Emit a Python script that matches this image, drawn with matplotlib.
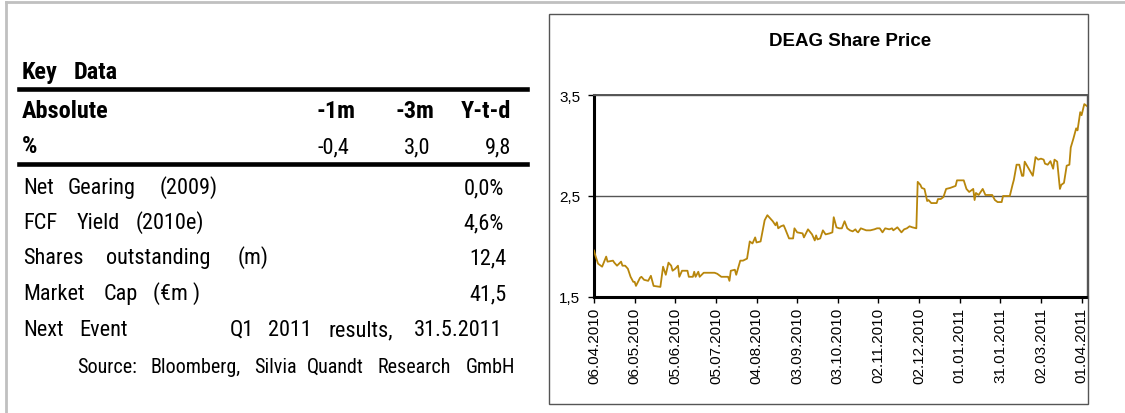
import matplotlib
matplotlib.use("Agg")
import matplotlib.pyplot as plt
import matplotlib.font_manager as fm
from matplotlib.lines import Line2D
from matplotlib.patches import Rectangle
import pandas as pd

# ---- data -------------------------------------------------------------
start_date = "06.04.2010"

# calendar days after the start date, and the closing price on that day
days = [
    0, 1, 3, 6, 9, 10, 14, 15, 17, 20, 21, 23, 25, 27, 29, 30, 31, 34, 35, 37,
    40, 42, 44, 49, 51, 53, 55, 57, 58, 60, 62, 63, 65, 69, 70, 73, 74, 75, 77,
    78, 81, 85, 89, 91, 94, 99, 100, 101, 104, 105, 108, 110, 113, 115, 117,
    119, 120, 123, 126, 128, 130, 132, 134, 135, 136, 138, 140, 141, 144, 147,
    148, 150, 154, 155, 158, 161, 163, 164, 165, 167, 169, 171, 174, 176, 177,
    179, 181, 183, 185, 187, 189, 191, 193, 194, 195, 197, 199, 201, 204, 207,
    209, 211, 213, 215, 218, 220, 221, 224, 227, 229, 231, 233, 235, 238, 239,
    241, 242, 244, 246, 247, 249, 253, 254, 256, 258, 260, 263, 267, 268, 273,
    275, 277, 279, 280, 281, 282, 284, 286, 287, 289, 294, 296, 298, 301, 302,
    307, 309, 310, 312, 314, 316, 317, 318, 321, 324, 326, 328, 330, 332, 333,
    335, 337, 339, 340, 342, 344, 345, 347, 349, 351, 352, 354, 356, 357, 359,
    360, 362, 363, 364,
]
prices = [
    1.96, 1.91, 1.83, 1.80, 1.90, 1.85, 1.86, 1.84, 1.81, 1.85, 1.81, 1.81,
    1.78, 1.70, 1.65, 1.65, 1.61, 1.69, 1.70, 1.67, 1.66, 1.71, 1.61, 1.60,
    1.80, 1.72, 1.84, 1.81, 1.76, 1.78, 1.81, 1.70, 1.76, 1.76, 1.70, 1.70,
    1.75, 1.70, 1.75, 1.70, 1.74, 1.74, 1.74, 1.73, 1.70, 1.70, 1.66, 1.76,
    1.77, 1.72, 1.86, 1.86, 1.88, 2.05, 2.03, 2.09, 2.04, 2.05, 2.26, 2.31,
    2.28, 2.25, 2.21, 2.24, 2.18, 2.20, 2.21, 2.18, 2.08, 2.08, 2.18, 2.14,
    2.13, 2.09, 2.17, 2.12, 2.06, 2.11, 2.07, 2.08, 2.16, 2.12, 2.13, 2.14,
    2.29, 2.19, 2.18, 2.18, 2.25, 2.18, 2.16, 2.15, 2.17, 2.15, 2.14, 2.18,
    2.17, 2.16, 2.16, 2.17, 2.18, 2.18, 2.14, 2.18, 2.17, 2.18, 2.16, 2.19,
    2.14, 2.17, 2.18, 2.20, 2.19, 2.18, 2.64, 2.61, 2.58, 2.57, 2.45, 2.46,
    2.43, 2.43, 2.47, 2.47, 2.49, 2.57, 2.58, 2.60, 2.655, 2.655, 2.57, 2.54,
    2.56, 2.57, 2.46, 2.53, 2.51, 2.55, 2.57, 2.51, 2.51, 2.46, 2.44, 2.44,
    2.50, 2.50, 2.61, 2.66, 2.81, 2.81, 2.70, 2.70, 2.84, 2.77, 2.70, 2.885,
    2.86, 2.87, 2.86, 2.82, 2.81, 2.845, 2.77, 2.86, 2.84, 2.57, 2.61, 2.63,
    2.80, 2.81, 2.98, 3.07, 3.17, 3.15, 3.33, 3.30, 3.41, 3.40, 3.39,
]

tick_labels = [
    "06.04.2010", "06.05.2010", "05.06.2010", "05.07.2010", "04.08.2010",
    "03.09.2010", "03.10.2010", "02.11.2010", "02.12.2010", "01.01.2011",
    "31.01.2011", "02.03.2011", "01.04.2011",
]
y_ticks = [1.5, 2.5, 3.5]

perf_periods = ["-1m", "-3m", "Y-t-d"]
perf_values = ["-0,4", "3,0", "9,8"]

key_labels = [
    ["Net", "Gearing", "(2009)"],
    ["FCF", "Yield", "(2010e)"],
    ["Shares", "outstanding", "(m)"],
    ["Market", "Cap", "(€m )"],
]
key_values = ["0,0%", "4,6%", "12,4", "41,5"]
next_event = ["Next", "Event", "Q1", "2011", "results,", "31.5.2011"]
source_words = ["Source:", "Bloomberg,", "Silvia", "Quandt", "Research", "GmbH"]


# ---- fonts ------------------------------------------------------------
def find_condensed():
    candidates = [
        ("Liberation Sans Narrow", "normal"),
        ("Arial Narrow", "normal"),
        ("Roboto Condensed", "normal"),
        ("DejaVu Sans", "condensed"),
    ]
    for family, stretch in candidates:
        try:
            path = fm.findfont(fm.FontProperties(family=family, stretch=stretch),
                               fallback_to_default=False)
        except ValueError:
            continue
        if stretch == "condensed" and "ondensed" not in path:
            continue
        return family, stretch
    return None


sans = "Liberation Sans"
found = find_condensed()
if found:
    narrow, stretch = found
    BIG, SMALL, SOURCE = 17.5, 16, 14.5
else:
    narrow, stretch = sans, "normal"
    BIG, SMALL, SOURCE = 15, 13.5, 12.5

W, H = 1125, 414
fig = plt.figure(figsize=(W / 100, H / 100), dpi=100)


def fx(x):
    return x / W


def fy(y):
    return 1 - y / H


def hline(x0, x1, y, **kw):
    fig.add_artist(Line2D([fx(x0), fx(x1)], [fy(y), fy(y)],
                          transform=fig.transFigure, **kw))


def put(x, y, s, size, bold=False, ha="left"):
    fig.text(fx(x), fy(y), s, fontsize=size, family=narrow, fontstretch=stretch,
             fontweight="bold" if bold else "normal", ha=ha, va="baseline")


# ---- page frame -------------------------------------------------------
hline(6, W, 3, color="#c0c0c0", lw=2)
fig.add_artist(Line2D([fx(6), fx(6)], [fy(3), 0], transform=fig.transFigure,
                      color="#c0c0c0", lw=2))

# ---- key data table ---------------------------------------------------
put(22, 79, "Key", BIG, bold=True)
put(74, 79, "Data", BIG, bold=True)
hline(19, 527, 90, color="black", lw=3.3)

put(22, 118, "Absolute", BIG, bold=True)
for s, x in zip(perf_periods, [356, 434, 511]):
    put(x, 118, s, BIG, bold=True, ha="right")
put(22, 153, "%", BIG, bold=True)
for s, x in zip(perf_values, [349, 430, 511]):
    put(x, 153, s, SMALL, ha="right")
hline(19, 527, 165, color="black", lw=3.3)

word_x = [[23, 68, 160], [23, 77, 136], [23, 106, 238], [23, 104, 153]]
value_x = [504, 504, 507, 507]
row_y = [194, 229, 264, 300]
for words, xs, val, vx, y in zip(key_labels, word_x, key_values, value_x, row_y):
    for w, x in zip(words, xs):
        put(x, y, w, SMALL)
    put(vx, y, val, SMALL, ha="right")

for w, x in zip(next_event, [23, 79, 230, 268, 328, 414]):
    put(x, 336, w, SMALL)
for w, x in zip(source_words, [77, 150, 254, 307, 377, 466]):
    put(x, 373, w, SOURCE)

# ---- share price chart -------------------------------------------------
fig.add_artist(Rectangle((fx(549), fy(405)), fx(1088) - fx(549),
                         fy(15) - fy(405), transform=fig.transFigure,
                         fill=False, edgecolor="#555555", lw=1))
fig.text(fx(850), fy(42), "DEAG Share Price", family=sans, fontsize=13.5,
         fontweight="bold", ha="center", va="center")

t0 = pd.to_datetime(start_date, format="%d.%m.%Y")
dates = t0 + pd.to_timedelta(days, unit="D")
ticks = pd.to_datetime(tick_labels, format="%d.%m.%Y")

ax = fig.add_axes([fx(594), fy(298), fx(1087) - fx(594), fy(96) - fy(298)])
ax.plot(dates, prices, color="#b8860b", lw=1.3, zorder=3)
ax.set_xlim(t0, t0 + pd.Timedelta(days=364))
ax.set_ylim(y_ticks[0], y_ticks[-1])
ax.set_yticks(y_ticks)
ax.set_yticklabels([f"{v:.1f}".replace(".", ",") for v in y_ticks])
ax.set_xticks(ticks)
ax.set_xticklabels(tick_labels, rotation=90, va="top", ha="center")
ax.yaxis.grid(True, color="#555555", lw=1)
ax.set_axisbelow(True)

for side in ["left", "bottom"]:
    ax.spines[side].set_color("black")
    ax.spines[side].set_linewidth(2.2)
ax.spines["top"].set_color("#555555")
ax.spines["top"].set_linewidth(1.4)
ax.spines["right"].set_color("#555555")
ax.spines["right"].set_linewidth(1)

ax.tick_params(axis="both", direction="out", length=4, width=1,
               labelsize=11, colors="black")
ax.tick_params(axis="y", pad=6)
ax.tick_params(axis="x", pad=3)
for lab in ax.get_xticklabels() + ax.get_yticklabels():
    lab.set_family(sans)

fig.savefig("out.png", dpi=100)
